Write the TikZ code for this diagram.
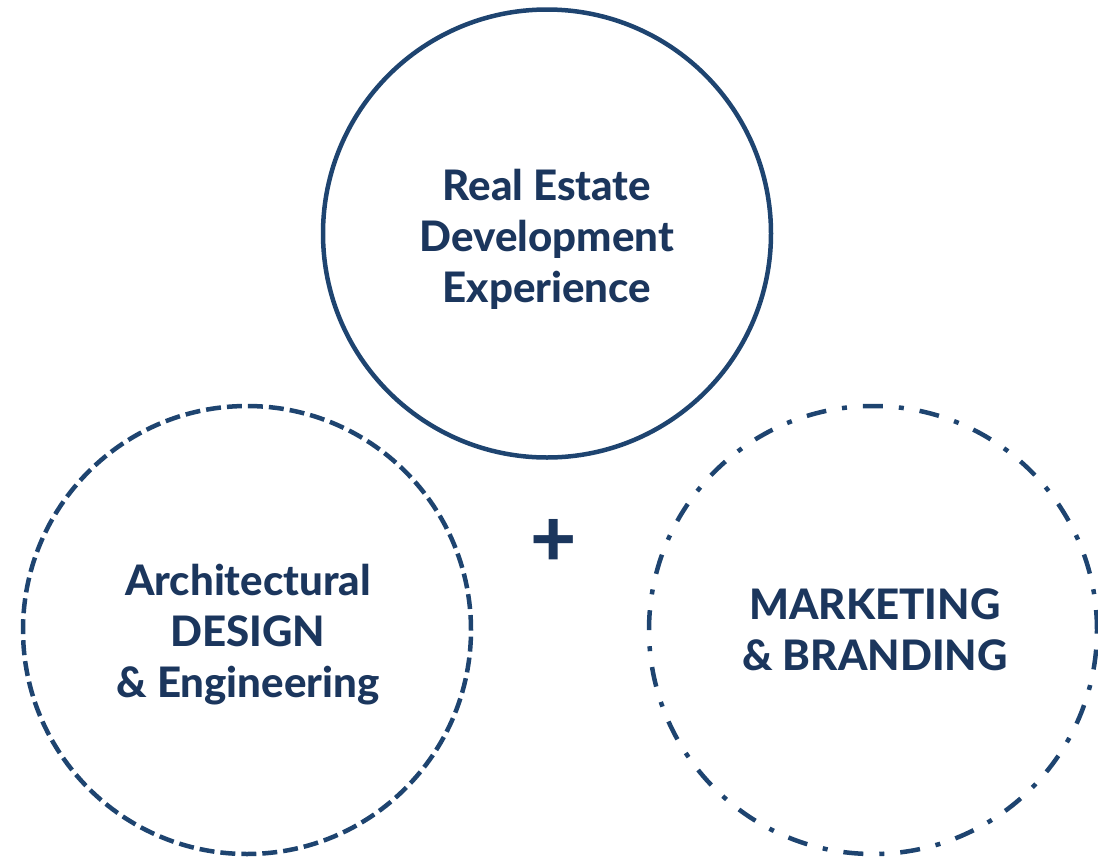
\documentclass[tikz,border=0pt]{standalone}
\usepackage{fontspec}
\setmainfont{Lato}[BoldFont={Lato Heavy}]
\usetikzlibrary{positioning}
\definecolor{navy}{HTML}{1E4470}
\definecolor{ink}{HTML}{1B365D}

\begin{document}
\begin{tikzpicture}[x=1pt,y=-1pt,node distance=626pt,line width=4.5pt]
	\tikzstyle{every node}=[text=ink,align=center,font=\fontsize{42}{51}\selectfont\bfseries]
	\tikzstyle{ring}=[circle,draw=navy,minimum size=448pt,inner sep=0pt]
	\tikzstyle{dashring}=[ring,dash pattern=on 15pt off 6pt]
	\tikzstyle{dotring}=[ring,dash pattern=on 20pt off 16pt on 5pt off 16pt]

	\useasboundingbox (0,0) rectangle (1098,860);

	\node[ring] (R) at (547,233.5) {};
	\node[dashring] (A) at (247,630) {};
	\node[dotring] (M) [right of = A] {};

	\node (Rt) at ([yshift=-6pt]R) {Real Estate\\Development\\Experience};
	\node (At) at ([yshift=-5pt,xshift=1pt]A) {Architectural\\DESIGN\\\& Engineering};
	\node (Mt) at ([xshift=2pt]M) {MARKETING\\\& BRANDING};

	\node[font=\fontsize{80}{80}\selectfont\bfseries] (P) at (554,543) {+};
\end{tikzpicture}
\end{document}
